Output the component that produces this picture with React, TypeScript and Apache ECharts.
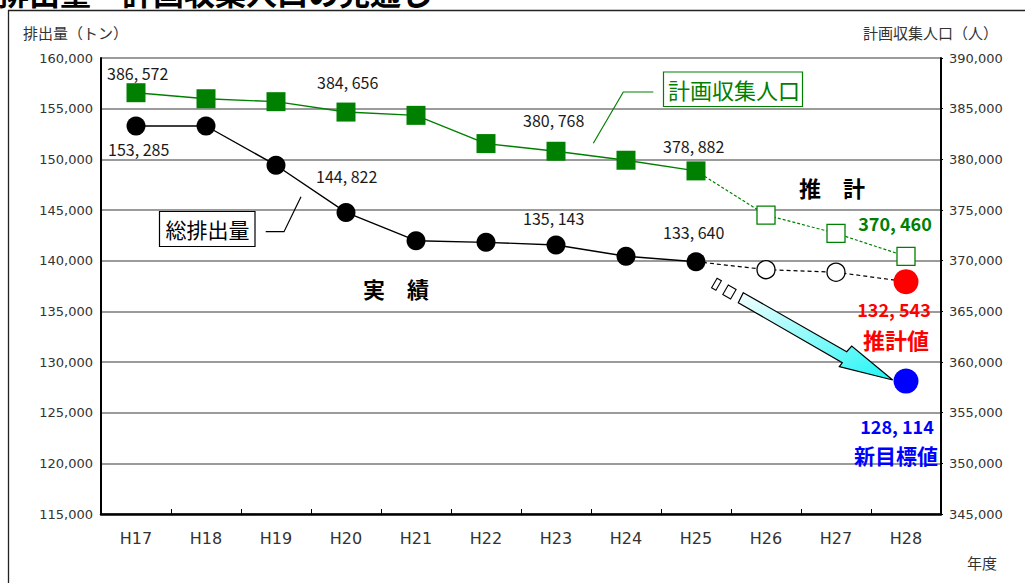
import React, { useEffect, useRef } from "react";
import * as echarts from "echarts";

const categories = ["H17", "H18", "H19", "H20", "H21", "H22", "H23", "H24", "H25", "H26", "H27", "H28"];
// 総排出量 (t) — actual H17..H25
const emissionActual = [153290, 153290, 149420, 144760, 141970, 141810, 141545, 140430, 139900];
// 総排出量 forecast H25..H28
const emissionForecast = [139900, 139115, 138860, 137930];
// new target H28
const emissionTarget = 128114;
// 計画収集人口 — actual H17..H25
const populationActual = [386575, 385980, 385690, 384665, 384340, 381555, 380797, 379911, 378858];
// 計画収集人口 forecast H25..H28
const populationForecast = [378858, 374500, 372700, 370430];

const leftAxis = { min: 115000, max: 160000, interval: 5000 };
const rightAxis = { min: 345000, max: 390000, interval: 5000 };

const valueLabels = [
  { text: "386, 572", x: 107, y: 73 },
  { text: "384, 656", x: 317, y: 82 },
  { text: "380, 768", x: 523, y: 120 },
  { text: "378, 882", x: 663, y: 146 },
  { text: "153, 285", x: 108, y: 149 },
  { text: "144, 822", x: 316, y: 176 },
  { text: "135, 143", x: 523, y: 218 },
  { text: "133, 640", x: 663, y: 232 },
];

const JP = '"Noto Sans CJK JP", "Noto Sans", sans-serif';
const NUM = '"DejaVu Sans", sans-serif';
const GREEN = "#008000";

const fmt = (v: number) => v.toLocaleString("en-US");

const pad = (arr: any[], start: number) =>
  categories.map((_, i) => (i >= start && i < start + arr.length ? arr[i - start] : "-"));

export default function App() {
  const ref = useRef<HTMLDivElement>(null);

  useEffect(() => {
    if (!ref.current) return;
    const chart = echarts.init(ref.current, null, { renderer: "svg" });

    const fStart = categories.length - emissionForecast.length;

    const emissionForecastData = categories.map((_, i) => {
      if (i < fStart) return "-";
      const j = i - fStart;
      const v = emissionForecast[j];
      if (j === 0) return { value: v, symbol: "none" };
      if (j === emissionForecast.length - 1)
        return { value: v, symbolSize: 25, itemStyle: { color: "#ff0000", borderWidth: 0 } };
      return { value: v, symbolSize: 18, itemStyle: { color: "#ffffff", borderColor: "#000", borderWidth: 1.3 } };
    });

    const populationForecastData = categories.map((_, i) => {
      if (i < fStart) return "-";
      const j = i - fStart;
      const v = populationForecast[j];
      if (j === 0) return { value: v, symbol: "none" };
      return { value: v, symbolSize: 18, itemStyle: { color: "#ffffff", borderColor: GREEN, borderWidth: 1.3 } };
    });

    const targetData = categories.map((_, i) => (i === categories.length - 1 ? emissionTarget : "-"));

    const textEl = (text: string, x: number, y: number, o: any = {}) => ({
      type: "text",
      x,
      y,
      z: 60,
      style: {
        text,
        fill: o.fill || "#1a1a1a",
        fontSize: o.fontSize || 16,
        fontFamily: o.fontFamily || JP,
        fontWeight: o.fontWeight || "normal",
        align: o.align || "left",
        verticalAlign: "middle",
      },
    });

    const graphic: any[] = [
      // page title (cropped at the top edge in the source)
      textEl("排出量・計画収集人口の見通し", -2, -9, { fontSize: 31, fontWeight: "bold", fill: "#000" }),
      // outer frame
      {
        type: "rect",
        z: 1,
        shape: { x: 8.5, y: 10.5, width: 1100, height: 700 },
        style: { fill: "none", stroke: "#222", lineWidth: 1.3 },
      },
      textEl("排出量（トン）", 23, 32, { fontSize: 15, fill: "#333" }),
      textEl("計画収集人口（人）", 998, 32, { fontSize: 15, fill: "#333", align: "right" }),
      textEl("年度", 967, 562, { fontSize: 15, fill: "#333" }),
      ...valueLabels.map((l) => textEl(l.text, l.x, l.y, { fontSize: 16 })),
      textEl("370, 460", 895, 223, { fontSize: 18, fontWeight: "bold", fill: GREEN, align: "center" }),
      textEl("推　計", 799, 187, { fontSize: 22, fontWeight: "bold", fill: "#000" }),
      textEl("実　績", 363, 288, { fontSize: 22, fontWeight: "bold", fill: "#000" }),
      textEl("132, 543", 894, 309, { fontSize: 18, fontWeight: "bold", fill: "#ff0000", align: "center" }),
      textEl("推計値", 896, 339, { fontSize: 22, fontWeight: "bold", fill: "#ff0000", align: "center" }),
      textEl("128, 114", 897, 426, { fontSize: 18, fontWeight: "bold", fill: "#0000ff", align: "center" }),
      textEl("新目標値", 896, 455, { fontSize: 21, fontWeight: "bold", fill: "#0000ff", align: "center" }),
      // 総排出量 callout
      {
        type: "rect",
        z: 55,
        shape: { x: 159.5, y: 211.5, width: 95.5, height: 35 },
        style: { fill: "#fff", stroke: "#000", lineWidth: 1.2 },
      },
      textEl("総排出量", 207.5, 228.5, { fontSize: 21, fill: "#000", align: "center" }),
      {
        type: "polyline",
        z: 55,
        shape: { points: [[265.7, 231.7], [284, 231.7], [301, 196.7]] },
        style: { stroke: "#000", lineWidth: 1.2, fill: "none" },
      },
      // 計画収集人口 callout
      {
        type: "rect",
        z: 55,
        shape: { x: 663.5, y: 72, width: 139, height: 34.5 },
        style: { fill: "#fff", stroke: GREEN, lineWidth: 1.2 },
      },
      textEl("計画収集人口", 734, 89, { fontSize: 22, fill: GREEN, align: "center" }),
      {
        type: "polyline",
        z: 55,
        shape: { points: [[653.3, 92], [623.3, 92], [593.3, 143.3]] },
        style: { stroke: GREEN, lineWidth: 1.2, fill: "none" },
      },
      // arrow trailing boxes
      {
        type: "polygon",
        z: 55,
        shape: { points: [[715.9, 290.3], [721.4, 280.8], [717.1, 278.3], [711.6, 287.8]] },
        style: { fill: "#fff", stroke: "#000", lineWidth: 1.1 },
      },
      {
        type: "polygon",
        z: 55,
        shape: { points: [[730.6, 299.0], [736.1, 289.5], [728.3, 285.0], [722.8, 294.5]] },
        style: { fill: "#fff", stroke: "#000", lineWidth: 1.1 },
      },
      // big arrow
      {
        type: "polygon",
        z: 55,
        shape: {
          points: [
            [743.3, 292.7],
            [846.7, 351.7],
            [851.7, 346],
            [892.7, 380],
            [839.3, 366.7],
            [842.3, 362.7],
            [738.3, 302.7],
          ],
        },
        style: {
          fill: new echarts.graphic.LinearGradient(0, 0, 1, 1, [
            { offset: 0, color: "#f6ffff" },
            { offset: 1, color: "#1ff5f5" },
          ]),
          stroke: "#000",
          lineWidth: 1.2,
        },
      },
    ];

    chart.setOption({
      animation: false,
      backgroundColor: "#ffffff",
      grid: { left: 101, right: 84, top: 58, bottom: 69, containLabel: false },
      xAxis: {
        type: "category",
        data: categories,
        boundaryGap: true,
        axisLine: { show: true, lineStyle: { color: "#000", width: 2.5 } },
        axisTick: { show: true, inside: true, length: 5, lineStyle: { color: "#000", width: 1 } },
        axisLabel: { color: "#333", fontFamily: NUM, fontSize: 16, margin: 16 },
        splitLine: { show: false },
      },
      yAxis: [
        {
          type: "value",
          min: leftAxis.min,
          max: leftAxis.max,
          interval: leftAxis.interval,
          position: "left",
          axisLine: { show: true, lineStyle: { color: "#000", width: 2 } },
          axisTick: { show: false },
          axisLabel: { color: "#333", fontFamily: NUM, fontSize: 13, margin: 8, formatter: fmt },
          splitLine: { show: true, lineStyle: { color: "#7a7a7a", width: 1.6 } },
        },
        {
          type: "value",
          min: rightAxis.min,
          max: rightAxis.max,
          interval: rightAxis.interval,
          position: "right",
          axisLine: { show: true, lineStyle: { color: "#000", width: 2 } },
          axisTick: { show: true, length: 2, lineStyle: { color: "#000", width: 1.2 } },
          axisLabel: { color: "#333", fontFamily: NUM, fontSize: 13, margin: 8, formatter: fmt },
          splitLine: { show: false },
        },
      ],
      series: [
        {
          name: "総排出量推計",
          type: "line",
          yAxisIndex: 0,
          data: emissionForecastData,
          symbol: "circle",
          lineStyle: { color: "#000", width: 1.2, type: [4, 3] },
          z: 3,
        },
        {
          name: "計画収集人口推計",
          type: "line",
          yAxisIndex: 1,
          data: populationForecastData,
          symbol: "rect",
          lineStyle: { color: GREEN, width: 1.2, type: [3, 2] },
          z: 3,
        },
        {
          name: "総排出量",
          type: "line",
          yAxisIndex: 0,
          data: pad(emissionActual, 0),
          symbol: "circle",
          symbolSize: 19,
          itemStyle: { color: "#000" },
          lineStyle: { color: "#000", width: 1.4 },
          z: 4,
        },
        {
          name: "計画収集人口",
          type: "line",
          yAxisIndex: 1,
          data: pad(populationActual, 0),
          symbol: "rect",
          symbolSize: 19,
          itemStyle: { color: GREEN },
          lineStyle: { color: GREEN, width: 1.4 },
          z: 4,
        },
        {
          name: "新目標値",
          type: "scatter",
          yAxisIndex: 0,
          data: targetData,
          symbol: "circle",
          symbolSize: 25,
          itemStyle: { color: "#0000ff", opacity: 1 },
          z: 5,
        },
      ],
      graphic,
    });

    return () => chart.dispose();
  }, []);

  return (
    <div
      ref={ref}
      style={{ position: "absolute", left: 0, top: 0, width: 1025, height: 583, background: "#fff" }}
    />
  );
}
